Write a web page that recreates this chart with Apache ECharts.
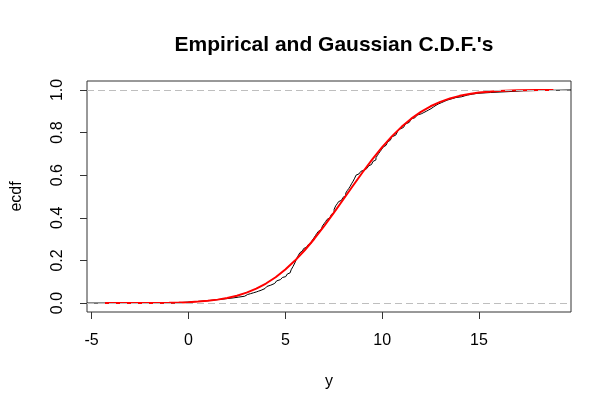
<!DOCTYPE html>
<html>
<head>
<meta charset="utf-8">
<script src="https://cdn.jsdelivr.net/npm/echarts@6/dist/echarts.min.js"></script>
<style>html,body{margin:0;padding:0;background:#fff}#c{width:616px;height:413px}</style>
</head>
<body>
<div id="c"></div>
<script>
// Empirical CDF: jump locations and level after each jump
const ecdfX = [-5.24,-0.66,-0.15,0.6,1.1,1.5,1.9,2.3,2.6,2.9,3.05,3.2,3.35,3.5,3.62,3.75,3.85,3.95,4.05,4.15,4.25,4.35,4.45,4.55,4.65,4.75,4.85,4.95,5.02,5.1,5.18,5.25,5.3,5.35,5.4,5.45,5.49,5.52,5.56,5.6,5.65,5.7,5.75,
  5.8,5.88,5.95,6.02,6.1,6.18,6.25,6.33,6.4,6.48,6.55,6.62,6.7,6.78,6.85,6.92,7.0,7.08,7.15,7.22,7.3,7.38,7.45,7.52,7.6,7.68,7.75,7.82,7.9,7.98,8.05,8.12,8.2,8.28,8.35,8.42,8.5,8.58,8.65,8.72,8.8,8.9,9.0,9.08,9.15,9.22,9.3,9.38,9.45,9.52,9.6,9.68,9.75,9.82,9.9,9.98,
  10.05,10.12,10.2,10.28,10.35,10.42,10.5,10.6,10.7,10.8,10.9,11.0,11.1,11.2,11.3,11.4,11.5,11.6,11.7,11.8,11.9,12.02,12.15,12.28,12.4,12.52,12.65,12.78,12.9,13.05,13.2,13.35,13.5,13.65,13.8,14.1,14.25,14.4,14.65,14.9,15.6,16.5,17.3,19.75];
const ecdfY = [0,0.004,0.008,0.012,0.016,0.02,0.024,0.028,0.032,0.04,0.044,0.048,0.052,0.056,0.06,0.064,0.068,0.072,0.078,0.084,0.088,0.092,0.098,0.104,0.11,0.116,0.12,0.124,0.13,0.136,0.142,0.148,0.156,0.164,0.172,0.18,0.188,0.196,0.204,0.212,0.22,0.228,0.236,
  0.244,0.25,0.256,0.262,0.268,0.274,0.28,0.288,0.296,0.306,0.316,0.326,0.336,0.344,0.352,0.362,0.372,0.382,0.392,0.4,0.408,0.416,0.424,0.44,0.456,0.466,0.476,0.482,0.488,0.496,0.504,0.516,0.528,0.538,0.548,0.56,0.572,0.586,0.6,0.606,0.612,0.618,0.624,0.628,0.632,0.638,0.644,0.65,0.656,0.664,0.672,0.682,0.692,0.702,0.712,0.722,
  0.732,0.74,0.748,0.756,0.764,0.772,0.78,0.788,0.796,0.806,0.816,0.824,0.832,0.84,0.848,0.856,0.864,0.87,0.876,0.882,0.888,0.894,0.9,0.906,0.912,0.92,0.928,0.934,0.94,0.946,0.952,0.956,0.96,0.964,0.968,0.972,0.976,0.98,0.984,0.988,0.992,0.996,1,1];
// Gaussian CDF curve
const gaussX = [-4.31,-4,-3,-2,-1,-0.5,0,0.5,1,1.5,2,2.5,3,3.5,4,4.5,5,5.5,6,6.5,7,7.5,8,8.5,9,9.5,10,10.5,11,11.5,12,12.5,13,13.5,14,14.5,15,15.5,16,17,18,18.84];
const gaussY = [0.00003,0.00004,0.00016,0.00052,0.0016,0.0026,0.0043,0.0068,0.0106,0.0161,0.0238,0.0345,0.0489,0.0676,0.0916,0.1212,0.1572,0.1993,0.2477,0.3018,0.3605,0.4228,0.4872,0.5517,0.6149,0.6753,0.7314,0.7821,0.8268,0.8652,0.8973,0.9234,0.9442,0.9602,0.9723,0.9811,0.9875,0.9919,0.9948,0.9981,0.9993,0.9998];
const xTicks = [-5,0,5,10,15];
const yTicks = [0,0.2,0.4,0.6,0.8,1];
const refLines = [0,1];

const zip = (a,b) => a.map((v,i)=>[v,b[i]]);
const font = 'Liberation Sans, Arial, sans-serif';
const chart = echarts.init(document.getElementById('c'), null, {renderer:'canvas'});
chart.setOption({
  animation:false,
  backgroundColor:'#fff',
  title:{text:"Empirical and Gaussian C.D.F.'s", left:329, textAlign:'center', top:30,
    textStyle:{fontFamily:font, fontWeight:'bold', fontSize:21, color:'#000'}},
  grid:{left:87,right:45,top:81,bottom:101,show:true,borderColor:'#333',borderWidth:1,backgroundColor:'transparent'},
  xAxis:{type:'value',min:-5.24,max:19.75,name:'y',nameLocation:'middle',nameGap:62,
    nameTextStyle:{fontFamily:font,fontSize:16,color:'#000'},
    axisLine:{show:false,onZero:false},splitLine:{show:false},
    axisTick:{show:true,length:7,customValues:xTicks,lineStyle:{color:'#333'}},
    axisLabel:{customValues:xTicks,margin:21,fontFamily:font,fontSize:16,color:'#000'}},
  yAxis:{type:'value',min:-0.042,max:1.042,name:'ecdf',nameLocation:'middle',nameGap:62,nameRotate:90,
    nameTextStyle:{fontFamily:font,fontSize:16,color:'#000'},
    axisLine:{show:false,onZero:false},splitLine:{show:false},
    axisTick:{show:true,length:7,customValues:yTicks,lineStyle:{color:'#333'}},
    axisLabel:{customValues:yTicks,rotate:90,margin:21,fontFamily:font,fontSize:16,color:'#000',
      formatter:v=>Number(v).toFixed(1)}},
  series:[
    {type:'line',data:zip(ecdfX,ecdfY),step:'end',showSymbol:false,symbol:'none',
      lineStyle:{color:'#000',width:1},z:2,
      markLine:{silent:true,symbol:'none',label:{show:false},
        lineStyle:{color:'#bebebe',type:[7,4],width:1},
        data:refLines.map(v=>({yAxis:v}))}},
    {type:'line',data:zip(gaussX,gaussY),showSymbol:false,symbol:'none',smooth:false,
      lineStyle:{color:'#ff0000',width:2},z:3}
  ]
});
</script>
</body>
</html>
